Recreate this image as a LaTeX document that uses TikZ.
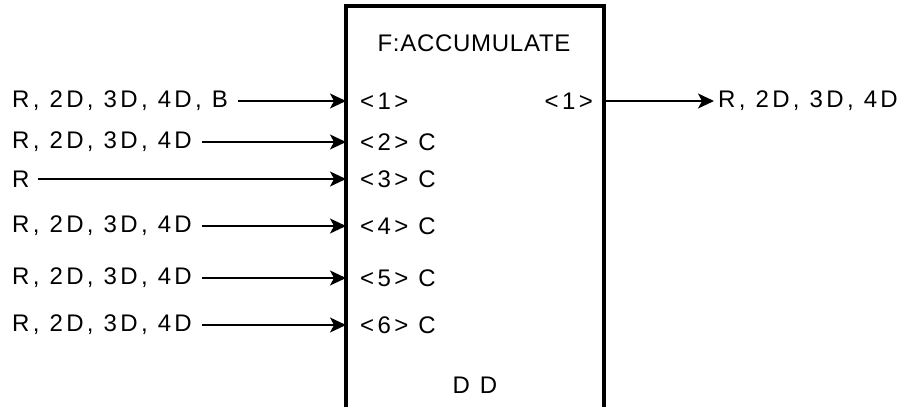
\documentclass[tikz,border=0pt]{standalone}
\usepackage{fontspec}
\setmainfont{Liberation Sans}[LetterSpace=14]
\newfontfamily\titlefont{Liberation Sans}[LetterSpace=3]
\usetikzlibrary{arrows.meta}

\begin{document}
\begin{tikzpicture}[x=1pt,y=-1pt,
  lbl/.style={inner sep=0pt,font=\fontsize{24}{27}\selectfont},
  feed/.style={line width=1.6pt,-{Stealth[length=16pt,width=15pt,inset=4pt]},shorten <=10pt}]
\useasboundingbox (0,0) rectangle (901,407);
% block
\draw[line width=3.8pt] (346,407) -- (346,6) -- (604,6) -- (604,407);
\coordinate (boxL) at (346,0);
\coordinate (boxR) at (604,0);
\node[lbl,font=\titlefont\fontsize{24}{27}\selectfont] (title) at (474,43) {F:ACCUMULATE};
\node[lbl] (dd) at (475,385) {D D};
% input ports
\node[lbl,anchor=west] (p1) at (360,101) {<1>};
\node[lbl,anchor=west] (p2) at (360,142) {<2> C};
\node[lbl,anchor=west] (p3) at (360,179) {<3> C};
\node[lbl,anchor=west] (p4) at (360,226) {<4> C};
\node[lbl,anchor=west] (p5) at (360,278) {<5> C};
\node[lbl,anchor=west] (p6) at (360,325) {<6> C};
% incoming signals
\node[lbl,anchor=west] (in1) at (12,101) {R, 2D, 3D, 4D, B};
\node[lbl,anchor=west] (in2) at (12,142) {R, 2D, 3D, 4D};
\node[lbl,anchor=west] (in3) at (12,179) {R};
\node[lbl,anchor=west] (in4) at (12,226) {R, 2D, 3D, 4D};
\node[lbl,anchor=west] (in5) at (12,278) {R, 2D, 3D, 4D};
\node[lbl,anchor=west] (in6) at (12,325) {R, 2D, 3D, 4D};
\draw[feed] (in1.east) -- (in1 -| boxL);
\draw[feed] (in2.east) -- (in2 -| boxL);
\draw[feed,shorten <=8pt] (in3.east) -- (in3 -| boxL);
\draw[feed] (in4.east) -- (in4 -| boxL);
\draw[feed] (in5.east) -- (in5 -| boxL);
\draw[feed] (in6.east) -- (in6 -| boxL);
% output
\node[lbl,anchor=east] (q1) at (593,101) {<1>};
\node[lbl,anchor=west] (out1) at (718,101) {R, 2D, 3D, 4D};
\draw[feed,shorten <=0pt,shorten >=4pt] (q1 -| boxR) -- (out1.west);
\end{tikzpicture}
\end{document}
